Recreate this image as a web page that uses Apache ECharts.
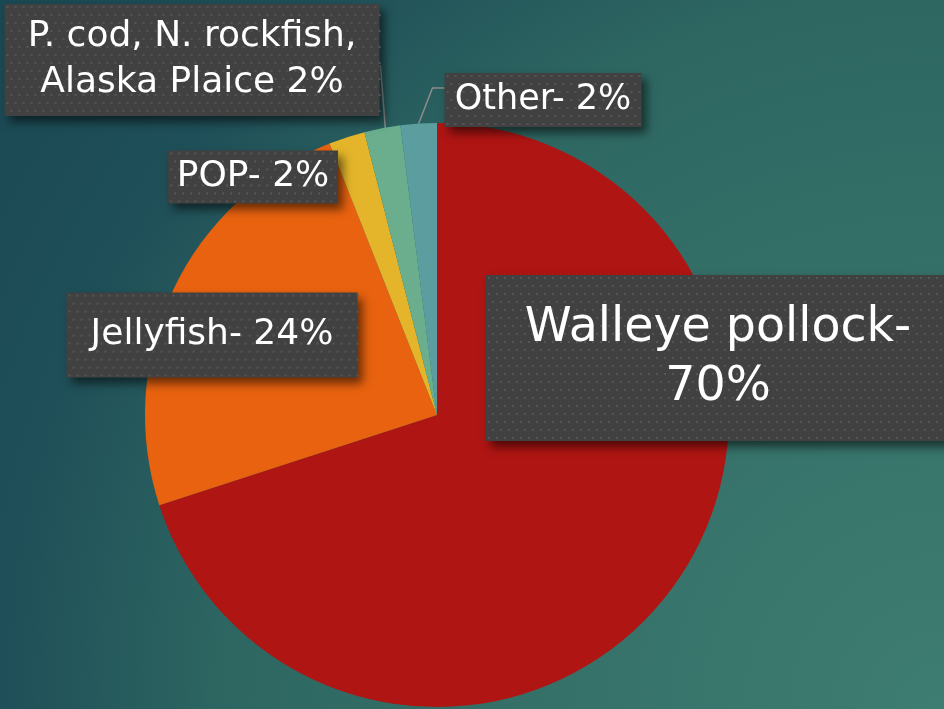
<!DOCTYPE html>
<html>
<head>
<meta charset="utf-8">
<script src="https://cdn.jsdelivr.net/npm/echarts@6/dist/echarts.min.js"></script>
<style>
  html, body { margin: 0; padding: 0; }
  #chart {
    width: 944px; height: 709px;
    background: radial-gradient(circle at 100% 100%, #3e7d71 0px, #2e6762 709px, #1f4f58 944px, #1a4853 1181px);
  }
</style>
</head>
<body>
<div id="chart"></div>
<script>
// Catch composition by species (percent)
const categories = ['Walleye pollock', 'Jellyfish', 'POP', 'P. cod, N. rockfish,\nAlaska Plaice', 'Other'];
const shares = [70, 24, 2, 2, 2];
const separators = ['-\n', '- ', '- ', ' ', '- '];

const sliceColors = ['#af1513', '#e8620f', '#e4b52a', '#6aae8e', '#5c9e9f'];

// Label box centres and sizes (px); shift nudges the text below the box centre
const labelCenters = [[718, 358], [212, 335], [253, 177], [192, 60], [543, 100]];
const labelBoxes = [
  { width: 464, lines: 2, fontSize: 47.5, lineHeight: 59, pad: 24, shift: 4 },
  { width: 291, lines: 1, fontSize: 36, lineHeight: 41, pad: 22, shift: 4 },
  { width: 170, lines: 1, fontSize: 36, lineHeight: 41, pad: 6, shift: 4 },
  { width: 375, lines: 2, fontSize: 36, lineHeight: 46, pad: 10, shift: 7 },
  { width: 197, lines: 1, fontSize: 35, lineHeight: 42, pad: 6, shift: 4 }
];
const withLeader = [false, false, false, true, true];

const MARGIN = 18;      // room around each box for its drop shadow

function boxHeight(b) { return b.lines * b.lineHeight + 2 * b.pad; }

// Dark dotted box with a soft drop shadow, drawn into the label's background image
function dottedBox(w, h) {
  const c = document.createElement('canvas');
  c.width = w + 2 * MARGIN; c.height = h + 2 * MARGIN;
  const g = c.getContext('2d');
  g.save();
  g.shadowColor = 'rgba(0,0,0,0.55)';
  g.shadowBlur = 9;
  g.shadowOffsetX = 5;
  g.shadowOffsetY = 6;
  g.fillStyle = '#414141';
  g.fillRect(MARGIN, MARGIN, w, h);
  g.restore();
  g.fillStyle = '#555555';
  for (let y = 2; y < h; y += 8) {
    for (let x = 2 + ((y >> 3) % 2) * 4; x < w; x += 8) {
      g.fillRect(MARGIN + x, MARGIN + y, 2, 2);
    }
  }
  return c;
}

const chart = echarts.init(document.getElementById('chart'), null, { renderer: 'canvas' });

const seriesData = categories.map((name, i) => {
  const b = labelBoxes[i];
  return {
    name: name,
    value: shares[i],
    itemStyle: { color: sliceColors[i] },
    label: {
      width: b.width,
      fontSize: b.fontSize,
      lineHeight: b.lineHeight,
      padding: [b.pad + b.shift + MARGIN, MARGIN, b.pad - b.shift + MARGIN, MARGIN],
      backgroundColor: { image: dottedBox(b.width, boxHeight(b)) }
    },
    labelLine: { show: withLeader[i] }
  };
});

// Leader line end points, relative to the label box edges
function leaderPoints(i, anchor, cx, cy) {
  const b = labelBoxes[i];
  const left = cx - b.width / 2, right = cx + b.width / 2, top = cy - boxHeight(b) / 2;
  if (i === 3) return [[anchor[0] + 3, anchor[1]], [right + 1, top + 62], [right - 10, top + 62]];
  return [anchor, [left - 12, top + 15], [left, top + 15]];
}

chart.setOption({
  backgroundColor: 'transparent',
  animation: false,
  series: [{
    type: 'pie',
    center: [437, 415],
    radius: 292,
    startAngle: 90,
    clockwise: true,
    avoidLabelOverlap: false,
    emphasis: { disabled: true },
    data: seriesData,
    label: {
      show: true,
      position: 'outside',
      formatter: p => p.name + separators[p.dataIndex] + p.value + '%',
      align: 'center',
      color: '#ffffff',
      fontFamily: 'DejaVu Sans',
      fontWeight: 'normal'
    },
    labelLine: {
      length: 6,
      length2: 6,
      lineStyle: { color: '#8c8c8c', width: 1.5 }
    },
    labelLayout: params => {
      const i = params.dataIndex;
      const [cx, cy] = labelCenters[i];
      const out = { x: cx, y: cy, align: 'center', verticalAlign: 'middle' };
      if (withLeader[i] && params.labelLinePoints) {
        out.labelLinePoints = leaderPoints(i, params.labelLinePoints[0], cx, cy);
      }
      return out;
    }
  }]
});
</script>
</body>
</html>
